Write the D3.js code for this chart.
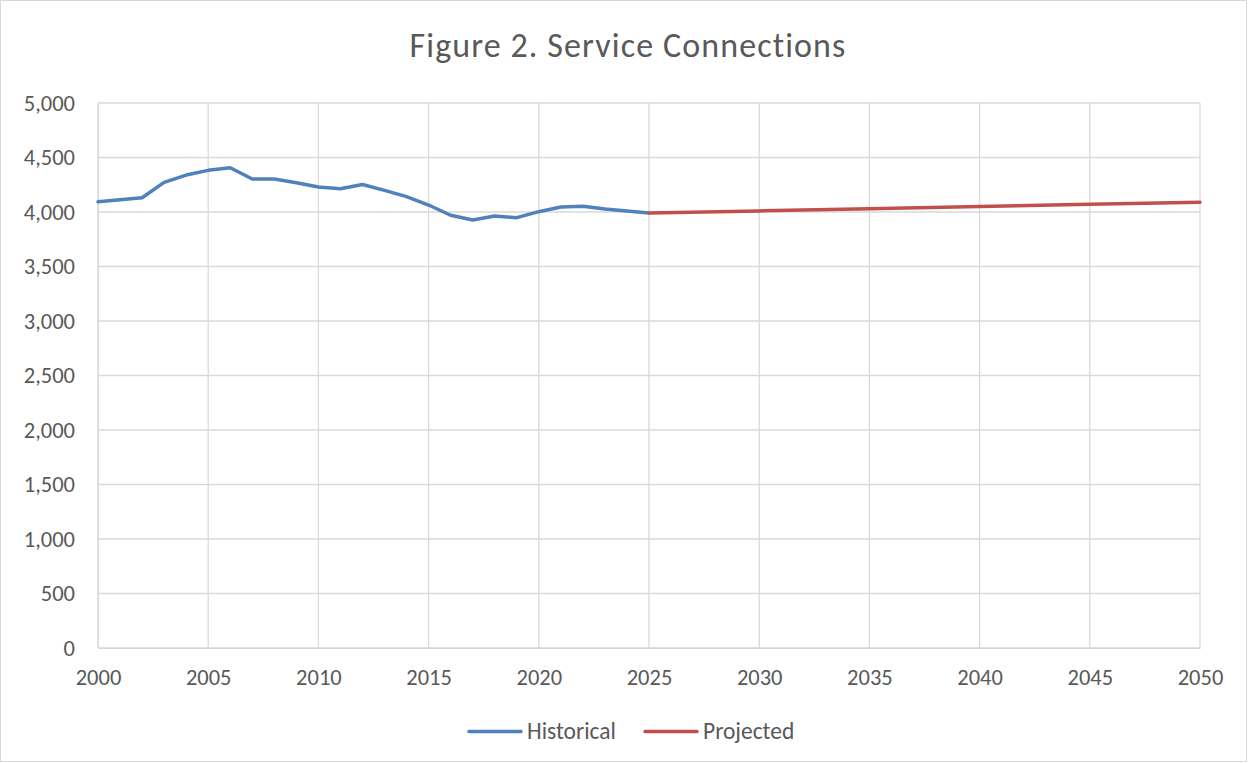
<!DOCTYPE html>
<html><head><meta charset="utf-8">
<script src="https://cdn.jsdelivr.net/npm/d3@7"></script>
<style>
html,body{margin:0;padding:0;background:#fff;}
svg{display:block;}
svg text{font-family:Carlito, Calibri, Lato, "Open Sans", sans-serif;}
</style></head>
<body><svg id="c" width="1248" height="763"></svg>
<script>
const histYears = [2000,2001,2002,2003,2004,2005,2006,2007,2008,2009,2010,2011,2012,2013,2014,2015,2016,2017,2018,2019,2020,2021,2022,2023,2024,2025];
const histValues = [4094,4113,4131,4272,4339,4382,4406,4303,4303,4268,4229,4214,4252,4198,4141,4064,3970,3927,3963,3948,4003,4046,4052,4028,4009,3991];
const projYears = [2025,2030,2035,2040,2045,2050];
const projValues = [3991,4010,4030,4050,4070,4089];
const xTicks = [2000,2005,2010,2015,2020,2025,2030,2035,2040,2045,2050];
const yTicks = [0,500,1000,1500,2000,2500,3000,3500,4000,4500,5000];
const seriesNames = ["Historical","Projected"];
const colors = ["#4F81BD","#C0504D"];

const svg = d3.select("#c");
svg.append("rect").attr("x",0.5).attr("y",0.5).attr("width",1246).attr("height",761)
  .attr("fill","#fff").attr("stroke","#d9d9d9");

const x = d3.scaleLinear().domain([2000,2050]).range([98,1200]);
const y = d3.scaleLinear().domain([0,5000]).range([648,103]);

svg.append("text").attr("x",628).attr("y",57).attr("text-anchor","middle")
  .attr("font-size",34).attr("letter-spacing",1.1).attr("fill","#595959").text("Figure 2. Service Connections");

// gridlines
svg.append("g").selectAll("line").data(yTicks).join("line")
  .attr("x1",98).attr("x2",1200).attr("y1",d=>y(d)).attr("y2",d=>y(d))
  .attr("stroke","#d9d9d9").attr("stroke-width",1.3);
svg.append("g").selectAll("line").data(xTicks).join("line")
  .attr("x1",d=>x(d)).attr("x2",d=>x(d)).attr("y1",103).attr("y2",648)
  .attr("stroke","#d9d9d9").attr("stroke-width",1.3);

// axes
const yAxis = svg.append("g").attr("transform","translate(98,0)")
  .call(d3.axisLeft(y).tickValues(yTicks).tickFormat(d3.format(",")).tickSize(0).tickPadding(23));
yAxis.attr("font-family",null);
yAxis.select(".domain").attr("stroke","#d9d9d9");
yAxis.selectAll("text").attr("font-size",22.5).attr("fill","#595959");

const xAxis = svg.append("g").attr("transform","translate(0,648)")
  .call(d3.axisBottom(x).tickValues(xTicks).tickFormat(d3.format("d")).tickSize(0).tickPadding(21));
xAxis.attr("font-family",null);
xAxis.select(".domain").attr("stroke","#d9d9d9");
xAxis.selectAll("text").attr("font-size",22.5).attr("fill","#595959");

const line = d3.line().x(d=>x(d[0])).y(d=>y(d[1]));
const hist = histYears.map((yr,i)=>[yr,histValues[i]]);
const proj = projYears.map((yr,i)=>[yr,projValues[i]]);
[hist,proj].forEach((data,i)=>{
  svg.append("path").datum(data).attr("d",line).attr("fill","none")
    .attr("stroke",colors[i]).attr("stroke-width",3.5).attr("stroke-linejoin","round").attr("stroke-linecap","round");
});

// legend
const legX = [469,645];
seriesNames.forEach((n,i)=>{
  svg.append("line").attr("x1",legX[i]).attr("x2",legX[i]+52).attr("y1",731.5).attr("y2",731.5)
    .attr("stroke",colors[i]).attr("stroke-width",3.5).attr("stroke-linecap","round");
  svg.append("text").attr("x",legX[i]+58).attr("y",739).attr("font-size",23.5).attr("fill","#595959").text(n);
});
</script></body></html>
